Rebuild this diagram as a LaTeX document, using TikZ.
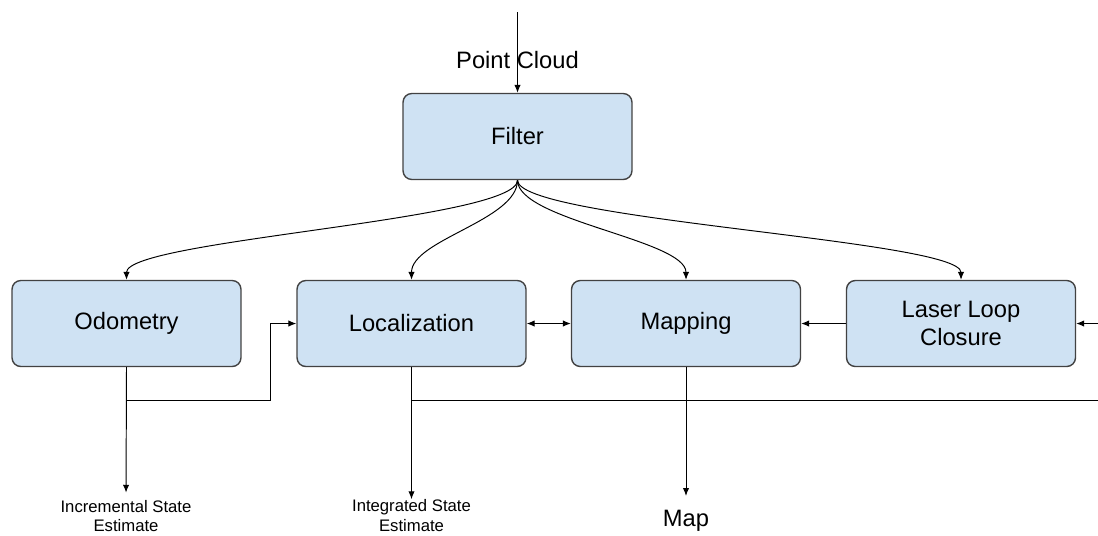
\documentclass[tikz,border=0pt]{standalone}
\usepackage{fontspec}
\setmainfont{Liberation Sans}
\usetikzlibrary{arrows.meta}
\definecolor{boxfill}{HTML}{CFE2F3}
\definecolor{boxline}{HTML}{424242}
\tikzset{
  block/.style={draw=boxline, fill=boxfill, line width=0.8pt, rounded corners=5pt,
    minimum width=4.58cm, minimum height=1.72cm, inner sep=0pt, align=center,
    font=\fontsize{13.5}{15.8}\selectfont},
  wire/.style={line width=0.55pt},
  conn/.style={wire, -{Latex[length=4.5pt,width=3.6pt]}},
  biconn/.style={wire, {Latex[length=4.5pt,width=3.6pt]}-{Latex[length=4.5pt,width=3.6pt]}},
  outlabel/.style={inner sep=0pt, align=center, font=\fontsize{9.5}{11.2}\selectfont}
}
\begin{document}
\begin{tikzpicture}[x=0.02cm,y=-0.02cm]
  \useasboundingbox (0,0) rectangle (1098,535);
  % blocks
  \node[block] (filter) at (517.5,136.5) {Filter};
  \node[block] (odom) at (126.5,323.5) {Odometry};
  \node[block] (loc) at (411.5,323.5) {Localization};
  \node[block] (mapping) at (686,323.5) {Mapping};
  \node[block] (llc) at (961,323.5) {Laser Loop\\Closure};
  % outputs
  \node[outlabel] (incest) at (126,516) {Incremental State\\Estimate};
  \node[outlabel] (intest) at (411.5,515.5) {Integrated State\\Estimate};
  \node[outlabel, font=\fontsize{13.5}{16}\selectfont] (mapout) at (686,521) {Map};
  % input cloud
  \coordinate (pcin) at (517.5,12);
  \draw[conn] (pcin) -- node[pos=0.6, inner sep=0pt, font=\fontsize{13.5}{16}\selectfont] (pclabel) {Point Cloud} (filter.north);
  \foreach \b in {odom,loc,mapping,llc}
    \draw[conn] (filter.south) .. controls +(0,40) and +(0,-40) .. (\b.north);
  % row links
  \draw[biconn] (loc.east) -- (mapping.west);
  \draw[conn] (llc.west) -- (mapping.east);
  \coordinate (llcin) at (1098,323.5);
  \draw[conn] (llcin) -- (llc.east);
  % odometry out
  \coordinate (odosplit) at (126.5,400);
  \coordinate (odoturn) at (270,400);
  \draw[conn, shorten >=4pt] (odom.south) -- (incest.north);
  \draw[conn] (odosplit) -- (odoturn) |- (loc.west);
  % localization out
  \coordinate (locsplit) at (411.5,400);
  \coordinate (locout) at (1098,400);
  \draw[conn] (loc.south) -- (intest.north);
  \draw[wire] (locsplit) -- (locout);
  % map out
  \draw[conn, shorten >=8pt] (mapping.south) -- (mapout.north);
\end{tikzpicture}
\end{document}
